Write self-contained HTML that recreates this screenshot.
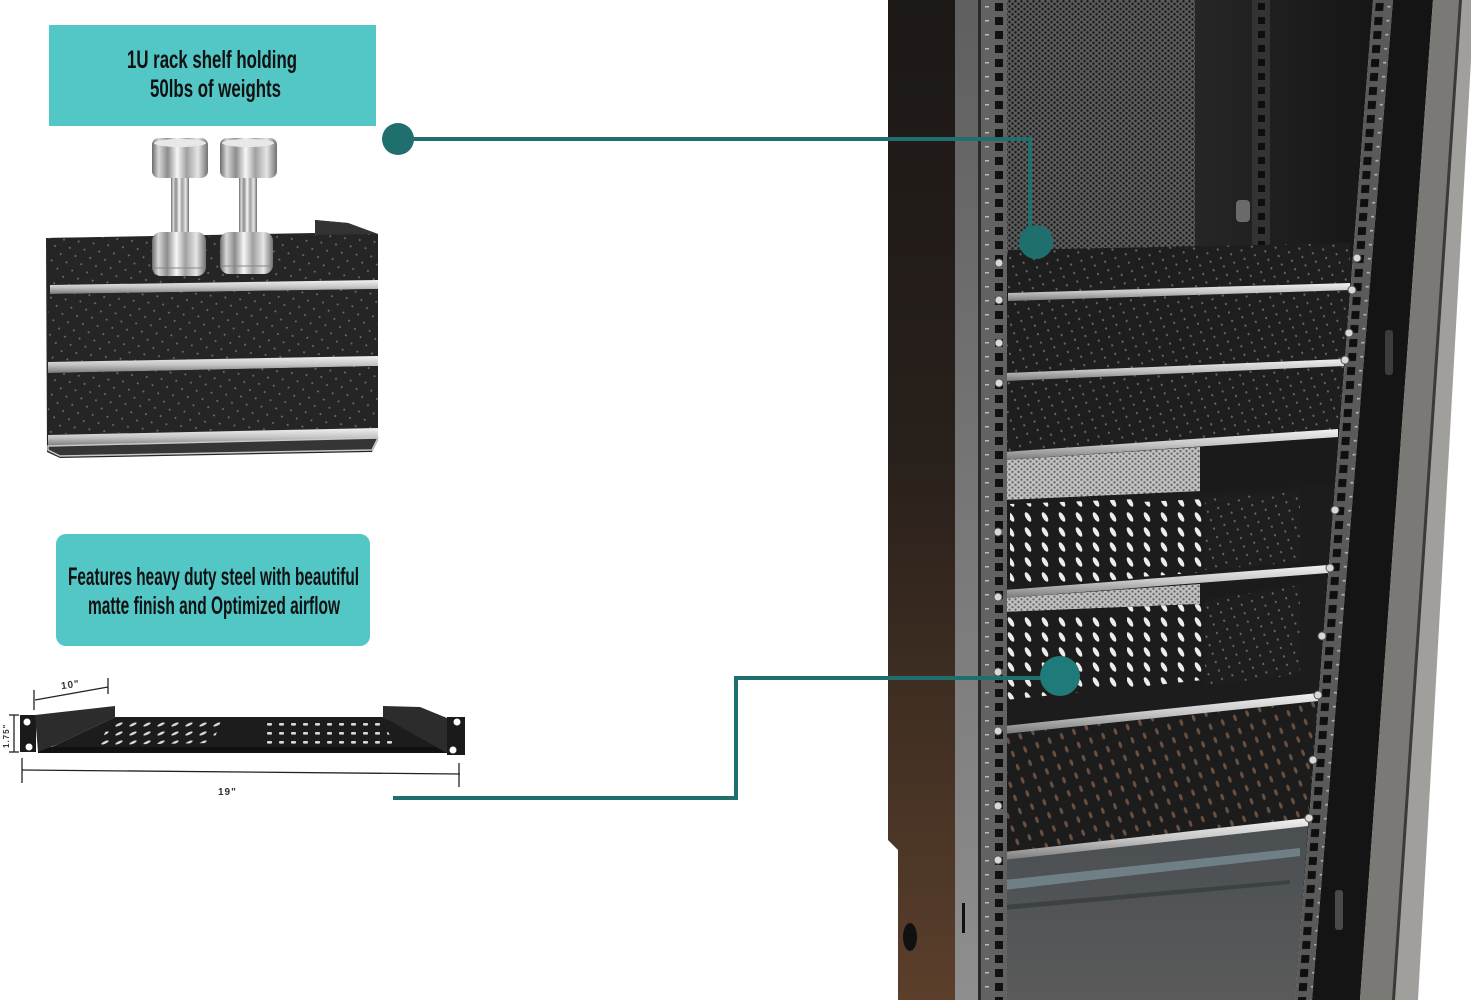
<!DOCTYPE html>
<html><head><meta charset="utf-8">
<style>html,body{margin:0;padding:0;background:#fff;}svg{display:block}</style>
</head>
<body>
<svg width="1471" height="1000" viewBox="0 0 1471 1000" xmlns="http://www.w3.org/2000/svg">
<defs>
 <linearGradient id="chrome" x1="0" x2="1" y1="0" y2="0">
  <stop offset="0" stop-color="#6a6a6a"/>
  <stop offset="0.12" stop-color="#d8d8d8"/>
  <stop offset="0.28" stop-color="#8c8c8c"/>
  <stop offset="0.45" stop-color="#f7f7f7"/>
  <stop offset="0.62" stop-color="#a0a0a0"/>
  <stop offset="0.82" stop-color="#e6e6e6"/>
  <stop offset="1" stop-color="#707070"/>
 </linearGradient>
 <linearGradient id="sidePanel" x1="0" y1="0" x2="0" y2="1">
  <stop offset="0" stop-color="#1c1816"/>
  <stop offset="0.45" stop-color="#28201b"/>
  <stop offset="1" stop-color="#5b3f2b"/>
 </linearGradient>
 <linearGradient id="frame" x1="0" y1="0" x2="0" y2="1">
  <stop offset="0" stop-color="#5f5f5f"/>
  <stop offset="1" stop-color="#8e8e8e"/>
 </linearGradient>
 <linearGradient id="bar" x1="0" y1="0" x2="0" y2="1">
  <stop offset="0" stop-color="#f2f2f2"/>
  <stop offset="0.5" stop-color="#c6c6c6"/>
  <stop offset="1" stop-color="#7a7a7a"/>
 </linearGradient>
 <linearGradient id="darkR" x1="0" y1="0" x2="1" y2="0">
  <stop offset="0" stop-color="#262626"/>
  <stop offset="1" stop-color="#161616"/>
 </linearGradient>
 <linearGradient id="floor" x1="0" y1="0" x2="0" y2="1">
  <stop offset="0" stop-color="#4a4f52"/>
  <stop offset="1" stop-color="#5a5a5a"/>
 </linearGradient>
 <pattern id="dotsA" width="11" height="10" patternUnits="userSpaceOnUse" patternTransform="rotate(-35)">
  <rect width="11" height="10" fill="#252525"/>
  <ellipse cx="3" cy="3" rx="1" ry="1" fill="#6e6e6e"/>
 </pattern>
 <pattern id="dotsR" width="11" height="9" patternUnits="userSpaceOnUse" patternTransform="rotate(-20)">
  <rect width="11" height="9" fill="#1e1e1e"/>
  <ellipse cx="3" cy="3" rx="1" ry="1.2" fill="#6a6a6a"/>
 </pattern>
 <pattern id="dotsF" width="13" height="14" patternUnits="userSpaceOnUse" patternTransform="rotate(-20)">
  <rect width="13" height="14" fill="#1c1c1c"/>
  <ellipse cx="5" cy="5" rx="1.6" ry="3.5" fill="#6a5040"/>
 </pattern>
 <pattern id="perf" width="6" height="5.2" patternUnits="userSpaceOnUse">
  <rect width="6" height="5.2" fill="#5c5c5c"/>
  <circle cx="1.5" cy="1.3" r="1.25" fill="#1c1c1c"/>
  <circle cx="4.5" cy="3.9" r="1.25" fill="#1c1c1c"/>
 </pattern>
 <pattern id="perfL" width="6" height="5.2" patternUnits="userSpaceOnUse">
  <rect width="6" height="5.2" fill="#c2c2c2"/>
  <circle cx="1.5" cy="1.3" r="1.2" fill="#6a6a6a"/>
  <circle cx="4.5" cy="3.9" r="1.2" fill="#6a6a6a"/>
 </pattern>
 <pattern id="slots" width="17" height="15" patternUnits="userSpaceOnUse">
  <rect width="17" height="15" fill="#1c1c1c"/>
  <ellipse cx="8" cy="7" rx="2.3" ry="5.3" fill="#ececec" transform="rotate(-30 8 7)"/>
 </pattern>
 <pattern id="railL" width="27" height="14" patternUnits="userSpaceOnUse" patternTransform="translate(980,0)">
  <rect width="27" height="14" fill="#626262"/>
  <rect x="15" y="3" width="8" height="8" fill="#111"/>
  <rect x="5" y="6" width="4" height="1.5" fill="#bbb"/>
 </pattern>
 <pattern id="railR" width="2000" height="14" patternUnits="userSpaceOnUse" patternTransform="skewX(-4.46)">
  <rect width="2000" height="14" fill="#5a5a5a"/>
  <rect x="1376" y="3" width="8" height="8" fill="#0f0f0f"/>
  <rect x="1388" y="6" width="3" height="1.5" fill="#bbb"/>
 </pattern>
 <pattern id="railM" width="18" height="14" patternUnits="userSpaceOnUse" patternTransform="translate(1252,0)">
  <rect width="18" height="14" fill="#333"/>
  <rect x="6" y="3" width="7" height="7" fill="#0e0e0e"/>
 </pattern>
 <pattern id="trayL" width="14" height="9" patternUnits="userSpaceOnUse">
  <rect width="14" height="9" fill="#1c1c1c"/>
  <ellipse cx="7" cy="4.5" rx="4" ry="1.3" fill="#d8d8d8" transform="rotate(-25 7 4.5)"/>
 </pattern>
 <pattern id="trayR" width="12" height="9" patternUnits="userSpaceOnUse">
  <rect width="12" height="9" fill="#1c1c1c"/>
  <rect x="3" y="3" width="5" height="2.6" rx="1" fill="#d8d8d8"/>
 </pattern>
</defs>

<rect width="1471" height="1000" fill="#fff"/>

<!-- ===== Top teal box ===== -->
<rect x="49" y="25" width="327" height="101" fill="#53c6c6"/>
<g font-family="'Liberation Sans Narrow','Liberation Sans',sans-serif" font-weight="bold" fill="#111" font-size="25">
 <text x="127" y="68" textLength="170" lengthAdjust="spacingAndGlyphs">1U rack shelf holding</text>
 <text x="150" y="97" textLength="131" lengthAdjust="spacingAndGlyphs">50lbs of weights</text>
</g>

<!-- ===== Left shelf photo ===== -->
<path d="M46,238 L315,233 L315,220 L348,223 L378,234 L378,440 L372,452 L60,458 L47,452 Z" fill="#262626"/>
<polygon points="315,220 348,223 378,234 378,240 315,236" fill="#333"/>
<polygon points="48,238 378,234 378,280 50,285" fill="url(#dotsA)"/>
<polygon points="50,285 378,280 378,289 50,294" fill="url(#bar)"/>
<polygon points="48,294 378,289 378,356 48,362" fill="url(#dotsA)"/>
<polygon points="48,362 378,356 378,366 48,373" fill="url(#bar)"/>
<polygon points="48,373 378,366 378,428 48,434" fill="url(#dotsA)"/>
<polygon points="48,435 378,428 378,438 48,446" fill="url(#bar)"/>
<polygon points="48,446 378,438 372,450 60,456 48,450" fill="#353535" stroke="#c8c8c8" stroke-width="1.5"/>

<!-- Dumbbells -->
<g>
 <rect x="171" y="174" width="18" height="62" fill="url(#chrome)"/>
 <rect x="152" y="138" width="56" height="40" rx="7" fill="url(#chrome)"/>
 <ellipse cx="180" cy="143" rx="26" ry="4" fill="#e8e8e8"/>
 <rect x="152" y="232" width="54" height="44" rx="9" fill="url(#chrome)"/>
 <line x1="154" y1="268" x2="204" y2="268" stroke="#888" stroke-width="1"/>
</g>
<g>
 <rect x="239" y="174" width="18" height="62" fill="url(#chrome)"/>
 <rect x="220" y="138" width="57" height="40" rx="7" fill="url(#chrome)"/>
 <ellipse cx="248" cy="143" rx="26" ry="4" fill="#e8e8e8"/>
 <rect x="220" y="232" width="53" height="42" rx="9" fill="url(#chrome)"/>
 <line x1="222" y1="266" x2="271" y2="266" stroke="#888" stroke-width="1"/>
</g>

<!-- ===== Second teal box ===== -->
<rect x="56" y="534" width="314" height="112" rx="10" fill="#53c6c6"/>
<g font-family="'Liberation Sans Narrow','Liberation Sans',sans-serif" font-weight="bold" fill="#111" font-size="25">
 <text x="68" y="585" textLength="291" lengthAdjust="spacingAndGlyphs">Features heavy duty steel with beautiful</text>
 <text x="88" y="614" textLength="252" lengthAdjust="spacingAndGlyphs">matte finish and Optimized airflow</text>
</g>

<!-- ===== Shelf dimension diagram ===== -->
<g>
 <rect x="20" y="715" width="16" height="37" fill="#1a1a1a"/>
 <circle cx="27" cy="722" r="3.5" fill="#fff"/>
 <circle cx="29" cy="747" r="3.5" fill="#fff"/>
 <rect x="447" y="717" width="18" height="38" fill="#1a1a1a"/>
 <circle cx="457" cy="722" r="3.5" fill="#fff"/>
 <circle cx="453" cy="750" r="3.5" fill="#fff"/>
 <polygon points="115,717 383,717 440,745 447,753 38,753 58,744" fill="#1c1c1c"/>
 <polygon points="110,720 222,718 213,743 100,745" fill="url(#trayL)"/>
 <polygon points="267,718 380,718 397,747 267,747" fill="url(#trayR)"/>
 <rect x="38" y="747" width="409" height="6" fill="#111"/>
 <polygon points="35,715 115,706 115,717 58,744 38,752" fill="#2c2c2c"/>
 <polygon points="383,706 420,707 447,718 447,753 383,717" fill="#2c2c2c"/>
 <g stroke="#222" stroke-width="1.3" fill="none">
  <line x1="35" y1="700" x2="108" y2="687"/>
  <line x1="34" y1="690" x2="34" y2="710"/>
  <line x1="108" y1="678" x2="108" y2="694"/>
  <line x1="14" y1="715" x2="14" y2="752"/>
  <line x1="9" y1="715" x2="19" y2="715"/>
  <line x1="9" y1="752" x2="19" y2="752"/>
  <line x1="22" y1="770" x2="460" y2="774"/>
  <line x1="22" y1="758" x2="22" y2="783"/>
  <line x1="459" y1="763" x2="459" y2="787"/>
 </g>
 <g font-family="'Liberation Sans',sans-serif" font-weight="bold" fill="#333" font-size="10" letter-spacing="1">
  <text x="61" y="688" transform="rotate(-8 70 685)">10"</text>
  <text x="218" y="795">19"</text>
  <text x="0" y="0" transform="translate(9,748) rotate(-90)" font-size="8">1.75"</text>
 </g>
</g>

<!-- ===== Rack ===== -->
<polygon points="888,0 955,0 955,1000 898,1000 898,850 888,840" fill="url(#sidePanel)"/>
<ellipse cx="910" cy="937" rx="7" ry="14" fill="#111"/>
<rect x="955" y="0" width="23" height="1000" fill="url(#frame)"/>
<rect x="962" y="903" width="3" height="30" fill="#111"/>
<rect x="978" y="0" width="3" height="1000" fill="#2a2a2a"/>
<polygon points="1007,0 1373,0 1295,1000 1007,1000" fill="#1b1b1b"/>
<rect x="1007" y="0" width="188" height="255" fill="url(#perf)"/>
<polygon points="1195,0 1373,0 1352,260 1195,260" fill="url(#darkR)"/>
<rect x="1252" y="0" width="18" height="265" fill="url(#railM)"/>
<rect x="1236" y="200" width="14" height="22" rx="4" fill="#6a6a6a"/>
<polygon points="1008,250 1350,243 1350,283 1008,293" fill="url(#dotsR)"/>
<polygon points="1008,301 1350,290 1344,359 1006,373" fill="url(#dotsR)"/>
<polygon points="1006,381 1344,366 1338,429 1004,452" fill="url(#dotsR)"/>
<polygon points="1004,460 1338,437 1334,490 1004,500" fill="#1a1a1a"/>
<polygon points="1004,460 1200,447 1200,493 1004,500" fill="url(#perfL)"/>
<polygon points="1004,500 1334,485 1328,565 1004,590" fill="#1c1c1c"/>
<polygon points="1010,504 1137,499 1140,578 1010,588" fill="url(#slots)"/>
<polygon points="1140,502 1205,499 1205,572 1140,577" fill="url(#slots)"/>
<polygon points="1205,498 1300,492 1300,562 1205,570" fill="url(#dotsR)"/>
<polygon points="1004,598 1200,584 1200,604 1004,612" fill="url(#perfL)"/>
<polygon points="1004,612 1200,604 1328,573 1318,693 1004,726" fill="#1c1c1c"/>
<polygon points="1005,617 1122,613 1122,688 1005,700" fill="url(#slots)"/>
<polygon points="1127,607 1203,604 1203,680 1127,688" fill="url(#slots)"/>
<polygon points="1205,600 1300,585 1300,675 1205,685" fill="url(#dotsR)"/>
<polygon points="1004,734 1318,701 1308,818 1004,852" fill="url(#dotsF)"/>
<polygon points="1004,860 1308,826 1295,1000 1004,1000" fill="url(#floor)"/>
<polygon points="1004,880 1300,848 1300,856 1004,890" fill="#6f7f86"/>
<polygon points="1004,905 1290,880 1290,884 1004,910" fill="#3c4244"/>
<polygon points="1008,293 1350,283 1350,290 1008,301" fill="url(#bar)"/>
<polygon points="1006,373 1344,359 1344,366 1006,381" fill="url(#bar)"/>
<polygon points="1004,452 1338,429 1338,437 1004,460" fill="url(#bar)"/>
<polygon points="1004,590 1328,565 1328,573 1004,598" fill="url(#bar)"/>
<polygon points="1004,726 1318,693 1318,701 1004,734" fill="url(#bar)"/>
<polygon points="1004,852 1308,818 1308,826 1004,860" fill="url(#bar)"/>
<rect x="981" y="0" width="26" height="1000" fill="url(#railL)"/>
<polygon points="1373,0 1393,0 1312,1000 1295,1000" fill="url(#railR)"/>
<polygon points="1393,0 1433,0 1360,1000 1312,1000" fill="#141414"/>
<rect x="1385" y="330" width="8" height="45" rx="3" fill="#3c3c3c"/>
<rect x="1335" y="890" width="8" height="40" rx="3" fill="#4a4a4a"/>
<polygon points="1433,0 1460,0 1393,1000 1360,1000" fill="#7b7976"/>
<polygon points="1460,0 1471,0 1471,60 1418,1000 1393,1000" fill="#a19f9c"/>
<polygon points="1459,0 1462,0 1395,1000 1392,1000" fill="#3a3a3a"/>
<g fill="#d8d8d8" stroke="#555" stroke-width="1">
 <circle cx="999" cy="263" r="4"/><circle cx="999" cy="300" r="4"/>
 <circle cx="999" cy="343" r="4"/><circle cx="999" cy="383" r="4"/>
 <circle cx="998" cy="532" r="4"/><circle cx="998" cy="597" r="4"/>
 <circle cx="998" cy="672" r="4"/><circle cx="998" cy="731" r="4"/>
 <circle cx="998" cy="806" r="4"/><circle cx="998" cy="860" r="4"/>
 <circle cx="1357" cy="258" r="4"/><circle cx="1352" cy="290" r="4"/>
 <circle cx="1349" cy="333" r="4"/><circle cx="1345" cy="360" r="4"/>
 <circle cx="1335" cy="510" r="4"/><circle cx="1330" cy="568" r="4"/>
 <circle cx="1322" cy="636" r="4"/><circle cx="1318" cy="695" r="4"/>
 <circle cx="1313" cy="760" r="4"/><circle cx="1309" cy="818" r="4"/>
</g>

<!-- ===== Connectors ===== -->
<g stroke="#1f6f6f" stroke-width="4" fill="none">
 <polyline points="399,139 1030,139 1030,242"/>
 <polyline points="393,798 736,798 736,678 1060,678"/>
</g>
<circle cx="398" cy="139" r="16" fill="#1f6f6f"/>
<circle cx="1036" cy="242" r="17" fill="#1f6f6f"/>
<circle cx="1060" cy="676" r="20" fill="#1f7a7a"/>
</svg>
</body></html>
